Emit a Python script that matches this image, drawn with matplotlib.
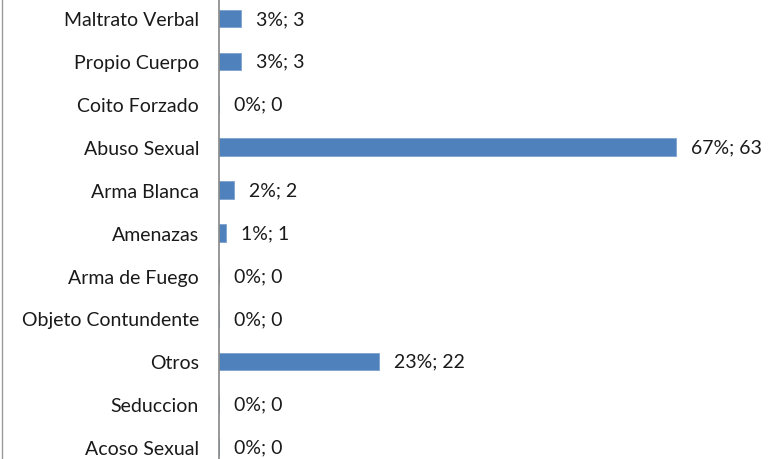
import matplotlib
matplotlib.use("Agg")
import matplotlib.pyplot as plt
from matplotlib.lines import Line2D

categories = ["Maltrato Verbal", "Propio Cuerpo", "Coito Forzado", "Abuso Sexual",
              "Arma Blanca", "Amenazas", "Arma de Fuego", "Objeto Contundente",
              "Otros", "Seduccion", "Acoso Sexual"]
counts = [3, 3, 0, 63, 2, 1, 0, 0, 22, 0, 0]
percents = [3, 3, 0, 67, 2, 1, 0, 0, 23, 0, 0]

plt.rcParams['font.family'] = ['Lato', 'DejaVu Sans']
fs = 14

fig = plt.figure(figsize=(7.69, 4.60), dpi=100)
ax = fig.add_axes([219 / 769, 0, 1 - 219 / 769, 1])

pos = list(range(len(categories)))
ax.barh(pos, counts, height=0.41, color="#4F81BD", edgecolor="#7EA3D1", linewidth=0.6)

for y, c, p in zip(pos, counts, percents):
    ax.annotate(f"{p}%; {c}", xy=(c, y), xytext=(15, 0), textcoords="offset pixels",
                ha="left", va="center", fontsize=fs, color="#1a1a1a")

ax.set_yticks(pos)
ax.set_yticklabels(categories, fontsize=fs, color="#1a1a1a")
ax.tick_params(axis="y", length=0, pad=14.4)
ax.set_xticks([])
ax.set_xlim(0, (769 - 219) / (457 / 63))
ax.set_ylim(10 + 12 / 42.85, -19.5 / 42.85)

for s in ["top", "right", "bottom"]:
    ax.spines[s].set_visible(False)
ax.spines["left"].set_color("#868686")
ax.spines["left"].set_linewidth(1.2)

fig.add_artist(Line2D([1.5 / 769, 1.5 / 769], [0, 1], color="#9a9a9a", linewidth=1.0))

fig.savefig("out.png", dpi=100)
